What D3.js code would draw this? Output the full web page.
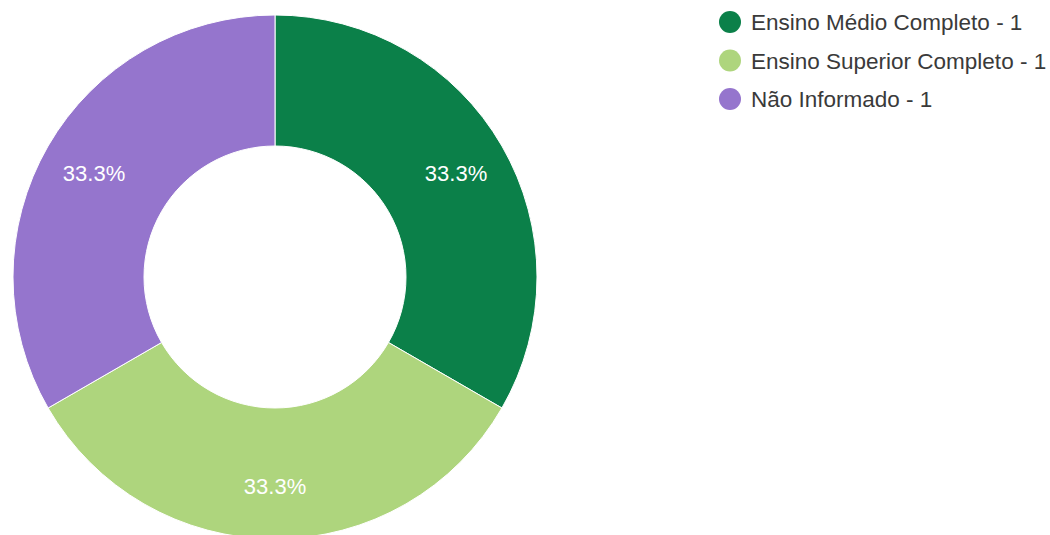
<!DOCTYPE html>
<html><head><meta charset="utf-8">
<script src="https://cdn.jsdelivr.net/npm/d3@7"></script>
<style>html,body{margin:0;padding:0;background:#fff;}svg{display:block;}</style>
</head><body>
<svg id="chart" width="1050" height="535"></svg>
<script>
const categories = ["Ensino Médio Completo", "Ensino Superior Completo", "Não Informado"];
const values = [1, 1, 1];
const colors = ["#0b8049", "#aed57d", "#9575cd"];

const svg = d3.select("#chart");
const cx = 275, cy = 277, outerR = 262, innerR = 131, labelR = 209;

const data = categories.map((c, i) => ({ name: c, value: values[i], color: colors[i] }));
const total = d3.sum(values);
const pie = d3.pie().value(d => d.value).sort(null);
const arc = d3.arc().innerRadius(innerR).outerRadius(outerR);
const labelArc = d3.arc().innerRadius(labelR).outerRadius(labelR);

const g = svg.append("g").attr("transform", `translate(${cx},${cy})`);
const arcs = pie(data);
g.selectAll("path").data(arcs).join("path")
  .attr("d", arc)
  .attr("fill", d => d.data.color)
  .attr("stroke", "#ffffff")
  .attr("stroke-width", 1);

const fmt = d3.format(".1%");
g.selectAll("text").data(arcs).join("text")
  .attr("transform", d => `translate(${labelArc.centroid(d)})`)
  .attr("text-anchor", "middle")
  .attr("dy", "0.38em")
  .attr("fill", "#ffffff")
  .attr("font-family", "Arial, 'Liberation Sans', sans-serif")
  .attr("font-size", 22)
  .text(d => fmt(d.data.value / total));

const legend = svg.append("g").attr("transform", "translate(730,22)");
const items = legend.selectAll("g").data(data).join("g")
  .attr("transform", (d, i) => `translate(0,${i * 38.5})`);
items.append("circle").attr("r", 11).attr("fill", d => d.color);
items.append("text")
  .attr("x", 21)
  .attr("dy", "0.36em")
  .attr("fill", "#3a3a3a")
  .attr("font-family", "Arial, 'Liberation Sans', sans-serif")
  .attr("font-size", 22.5)
  .text(d => `${d.name} - ${d.value}`);
</script>
</body></html>
